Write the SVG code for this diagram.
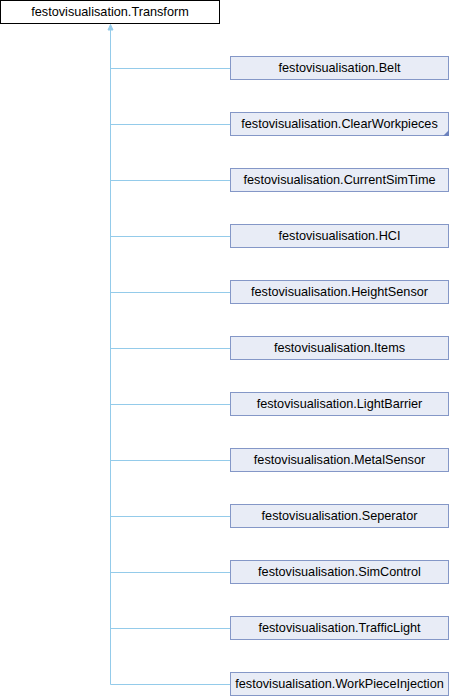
<svg xmlns="http://www.w3.org/2000/svg" width="450" height="696" viewBox="0 0 450 696">
<style>
.t{font-family:"Liberation Sans",Arial,sans-serif;font-size:12.7px;fill:#000;text-anchor:middle}
.c rect{fill:#E8ECF6;stroke:#8497C7;stroke-width:1}
.e{stroke:#94CBEA;stroke-width:1;fill:none}
</style>
<rect width="450" height="696" fill="#fff"/>
<g id="connectors">
<path class="e" d="M110.5 29V684.5"/>
<path class="e" d="M110.5 68.5H230M110.5 124.5H230M110.5 180.5H230M110.5 236.5H230M110.5 292.5H230M110.5 348.5H230M110.5 404.5H230M110.5 460.5H230M110.5 516.5H230M110.5 572.5H230M110.5 628.5H230M110.5 684.5H230"/>
<polygon points="110.5,24.5 113,30 108,30" fill="#94CBEA" stroke="#94CBEA" stroke-width="1"/>
</g>
<g id="Transform">
<rect x="0.5" y="0.5" width="219" height="23" fill="#fff" stroke="#000"/>
<text class="t" x="110" y="16">festovisualisation.Transform</text>
</g>
<g id="Belt" class="c"><rect x="230.5" y="56.5" width="218" height="23"/><text class="t" x="339.5" y="72">festovisualisation.Belt</text></g>
<g id="ClearWorkpieces" class="c"><rect x="230.5" y="112.5" width="218" height="23"/><text class="t" x="339.5" y="128">festovisualisation.ClearWorkpieces</text><polygon points="449,130 449,136 443,136" fill="#6C82BD"/></g>
<g id="CurrentSimTime" class="c"><rect x="230.5" y="168.5" width="218" height="23"/><text class="t" x="339.5" y="184">festovisualisation.CurrentSimTime</text></g>
<g id="HCI" class="c"><rect x="230.5" y="224.5" width="218" height="23"/><text class="t" x="339.5" y="240">festovisualisation.HCI</text></g>
<g id="HeightSensor" class="c"><rect x="230.5" y="280.5" width="218" height="23"/><text class="t" x="339.5" y="296">festovisualisation.HeightSensor</text></g>
<g id="Items" class="c"><rect x="230.5" y="336.5" width="218" height="23"/><text class="t" x="339.5" y="352">festovisualisation.Items</text></g>
<g id="LightBarrier" class="c"><rect x="230.5" y="392.5" width="218" height="23"/><text class="t" x="339.5" y="408">festovisualisation.LightBarrier</text></g>
<g id="MetalSensor" class="c"><rect x="230.5" y="448.5" width="218" height="23"/><text class="t" x="339.5" y="464">festovisualisation.MetalSensor</text></g>
<g id="Seperator" class="c"><rect x="230.5" y="504.5" width="218" height="23"/><text class="t" x="339.5" y="520">festovisualisation.Seperator</text></g>
<g id="SimControl" class="c"><rect x="230.5" y="560.5" width="218" height="23"/><text class="t" x="339.5" y="576">festovisualisation.SimControl</text></g>
<g id="TrafficLight" class="c"><rect x="230.5" y="616.5" width="218" height="23"/><text class="t" x="339.5" y="632">festovisualisation.TrafficLight</text></g>
<g id="WorkPieceInjection" class="c"><rect x="230.5" y="672.5" width="218" height="23"/><text class="t" x="339.5" y="688">festovisualisation.WorkPieceInjection</text></g>
</svg>
